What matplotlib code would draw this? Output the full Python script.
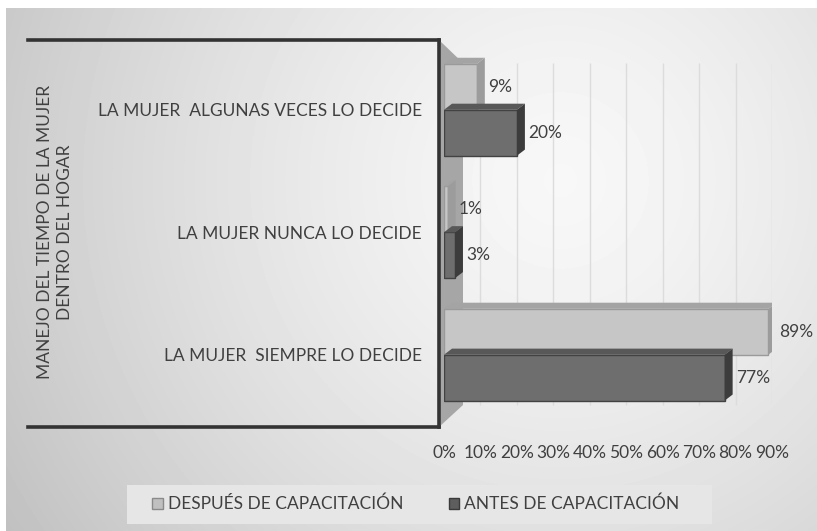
import numpy as np
import matplotlib
matplotlib.use("Agg")
import matplotlib.pyplot as plt
from matplotlib.patches import Polygon, Patch, Rectangle
from matplotlib.lines import Line2D

plt.rcParams['font.family'] = ['Lato', 'DejaVu Sans']

# data (bottom to top)
categories = ['LA MUJER  SIEMPRE LO DECIDE', 'LA MUJER NUNCA LO DECIDE',
              'LA MUJER  ALGUNAS VECES LO DECIDE']
despues = [89, 1, 9]
antes = [77, 3, 20]
series_names = ['DESPUÉS DE CAPACITACIÓN', 'ANTES DE CAPACITACIÓN']
xticks = [0, 10, 20, 30, 40, 50, 60, 70, 80, 90]
ytitle = 'MANEJO DEL TIEMPO DE LA MUJER\nDENTRO DEL HOGAR'

W, H = 817, 531
txt = '#404040'
fs = 12.5


def fx(x):
    return x / W


def fy(y):
    return 1 - y / H


fig = plt.figure(figsize=(W / 100, H / 100), dpi=100)
fig.patch.set_facecolor('white')

# gradient background of chart area
bg = fig.add_axes([fx(6), 0, 1 - fx(6), fy(8)], zorder=-1)
yy, xx = np.mgrid[8:H, 6:W]
d = np.hypot(xx - 560, yy - 180) / 600
img = np.clip(0.97 - 0.19 * d ** 1.4, 0.7, 1)
bg.imshow(img, cmap='gray', vmin=0, vmax=1, aspect='auto', interpolation='bilinear')
bg.axis('off')

# legend background
fig.patches.append(Rectangle((fx(127), fy(524)), fx(712) - fx(127), fy(485) - fy(524),
                             transform=fig.transFigure, facecolor='#e6e6e6',
                             edgecolor='none', zorder=1))

# side wall
fig.patches.append(Polygon([(fx(439), fy(40)), (fx(463), fy(63)), (fx(463), fy(405)),
                            (fx(439), fy(427))], closed=True, transform=fig.transFigure,
                           facecolor='#a6a6a6', edgecolor='none', zorder=1))

# frame lines of the category box
for (x0, y0), (x1, y1) in [((28, 40), (439, 40)), ((439, 40), (439, 427)),
                           ((28, 427), (439, 427))]:
    fig.add_artist(Line2D([fx(x0), fx(x1)], [fy(y0), fy(y1)], color='#333333', lw=2.6,
                          solid_capstyle='projecting', zorder=2))

ax = fig.add_axes([fx(444), fy(427), fx(772) - fx(444), fy(40) - fy(427)], zorder=3)
ax.patch.set_alpha(0)
for s in ax.spines.values():
    s.set_visible(False)

y = np.arange(len(categories))
h = 0.375
ax.set_xlim(0, 90)
ax.set_ylim(-0.59, 2.57)

ax.vlines(xticks[1:], 0.057, 0.94, transform=ax.get_xaxis_transform(),
          color='#dcdcdc', lw=1, zorder=0)

b1 = ax.barh(y + h / 2, despues, height=h, color='#c6c6c6', edgecolor='#9a9a9a', lw=1, zorder=2)
b2 = ax.barh(y - h / 2, antes, height=h, color='#6e6e6e', edgecolor='#424242', lw=1, zorder=3)

# 3d look: top and side faces
dx, dy = 2.2, 0.05
for bars, top_c, side_c, z in [(b1, '#a4a4a4', '#9c9c9c', 2), (b2, '#585858', '#3c3c3c', 3)]:
    for p in bars:
        x0, y0 = p.get_x(), p.get_y()
        x1, y1 = x0 + p.get_width(), y0 + p.get_height()
        ax.add_patch(Polygon([(x0, y1), (x0 + dx, y1 + dy), (x1 + dx, y1 + dy), (x1, y1)],
                             facecolor=top_c, edgecolor='none', zorder=z))
        ax.add_patch(Polygon([(x1, y0), (x1 + dx, y0 + dy), (x1 + dx, y1 + dy), (x1, y1)],
                             facecolor=side_c, edgecolor='none', zorder=z))

for bars, vals in [(b1, despues), (b2, antes)]:
    for p, v in zip(bars, vals):
        ax.annotate(f'{v}%', (v, p.get_y() + p.get_height() / 2), xytext=(8, 0),
                    textcoords='offset points', va='center', ha='left',
                    fontsize=fs, color=txt)

ax.set_xticks(xticks)
ax.set_xticklabels([f'{t}%' for t in xticks])
ax.set_yticks(y)
ax.set_yticklabels(categories)
ax.tick_params(axis='x', length=0, pad=13, labelsize=fs, labelcolor=txt)
ax.tick_params(axis='y', length=0, pad=16, labelsize=fs, labelcolor=txt)

fig.text(fx(55), fy(232), ytitle, rotation=90, ha='center', va='center',
         fontsize=fs, color=txt, linespacing=1.3, multialignment='center')

handles = [Patch(facecolor='#c0c0c0', edgecolor='#8a8a8a'),
           Patch(facecolor='#5e5e5e', edgecolor='#3a3a3a')]
fig.legend(handles, series_names, loc='center', bbox_to_anchor=(fx(416), fy(504)),
           ncol=2, frameon=False, fontsize=fs, labelcolor=txt, handlelength=0.6,
           handleheight=0.6, handletextpad=0.3, columnspacing=2.6)

fig.savefig('out.png', dpi=100)
